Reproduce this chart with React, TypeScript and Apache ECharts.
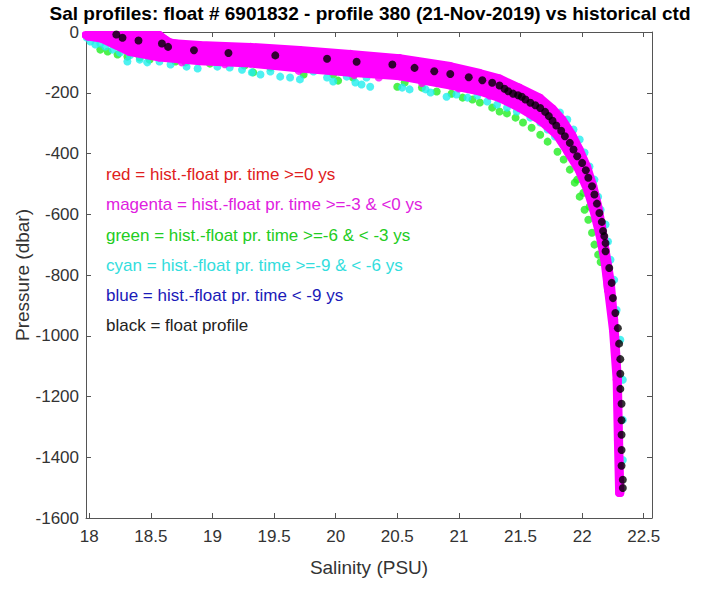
import React, { useEffect, useRef } from "react";
import * as echarts from "echarts";

// ---------- data ----------
const titleText = "Sal profiles: float # 6901832 - profile 380 (21-Nov-2019) vs historical ctd";
const xAxisTitle = "Salinity (PSU)";
const yAxisTitle = "Pressure (dbar)";

const xTicks = [18, 18.5, 19, 19.5, 20, 20.5, 21, 21.5, 22, 22.5];
const xMin = 17.974;
const xMax = 22.567;
const yMin = -1600;
const yMax = 0;
const yStep = 200;

const legendTexts = [
  "red = hist.-float pr. time >=0 ys",
  "magenta = hist.-float pr. time >=-3 & <0 ys",
  "green = hist.-float pr. time >=-6 & < -3 ys",
  "cyan = hist.-float pr. time >=-9 & < -6 ys",
  "blue = hist.-float pr. time < -9 ys",
  "black = float profile",
];

// float profile (black)
const floatProfile: number[][] = [
  [18.22, -8], [18.27, -19], [18.4, -28], [18.59, -38], [18.64, -49], [18.85, -60],
  [19.13, -69], [19.51, -77], [19.93, -88], [20.17, -98], [20.46, -107], [20.64, -118],
  [20.8, -129], [20.93, -138], [21.08, -149], [21.19, -159], [21.27, -167], [21.33, -176],
  [21.37, -187], [21.4, -195], [21.44, -203], [21.48, -208], [21.51, -213], [21.54, -222],
  [21.58, -233], [21.62, -241], [21.66, -250], [21.7, -263], [21.73, -277], [21.76, -292],
  [21.79, -308], [21.83, -325], [21.86, -343], [21.9, -365], [21.93, -387], [21.96, -409],
  [22.0, -431], [22.03, -455], [22.05, -480], [22.08, -508], [22.1, -535], [22.12, -565],
  [22.14, -596], [22.16, -625], [22.17, -655], [22.18, -672], [22.19, -695], [22.19, -722],
  [22.22, -777], [22.24, -826], [22.25, -876], [22.27, -925], [22.29, -975], [22.3, -1026],
  [22.31, -1077], [22.31, -1125], [22.31, -1175], [22.32, -1224], [22.32, -1278],
  [22.32, -1326], [22.32, -1376], [22.32, -1428], [22.33, -1474], [22.33, -1501],
];

// historical ctd, magenta (>=-3 & <0 ys): overlapping profiles forming the band
const magentaTop: number[][] = [
  [17.97, -10], [18.57, -10], [18.62, -25], [18.66, -36], [18.9, -43], [19.31, -49],
  [19.71, -59], [20.12, -72], [20.52, -86], [20.93, -112], [21.17, -135], [21.33, -153],
  [21.49, -183], [21.66, -217], [21.76, -252], [21.84, -288], [21.92, -338], [21.98, -387],
  [22.04, -443], [22.09, -506], [22.13, -572], [22.16, -638], [22.19, -717], [22.23, -815],
  [22.26, -947], [22.29, -1145], [22.3, -1343], [22.31, -1517],
];
const magentaUpper: number[][] = [
  [18.25, -15], [18.33, -23], [18.57, -27], [18.9, -54], [19.71, -72], [20.52, -99],
  [20.93, -126], [21.33, -168], [21.66, -234], [21.88, -316],
];
const magentaMid: number[][] = [
  [17.99, -15], [18.33, -36], [18.57, -44], [18.66, -56], [18.9, -66], [19.31, -72],
  [19.71, -86], [20.12, -99], [20.52, -112], [20.93, -140], [21.17, -161], [21.33, -183],
  [21.49, -213], [21.66, -252], [21.79, -295], [21.88, -344], [21.95, -397], [22.01, -453],
  [22.07, -519], [22.12, -592], [22.15, -667], [22.19, -750], [22.21, -849],
];
const magentaLower: number[][] = [
  [18.33, -50], [18.57, -66], [18.9, -82], [19.71, -105], [20.52, -131], [20.93, -160],
  [21.33, -203], [21.66, -275], [21.88, -372],
];
const magentaBottom: number[][] = [
  [18.09, -20], [18.33, -66], [18.57, -84], [18.9, -96], [19.31, -104], [19.71, -120],
  [20.12, -134], [20.52, -146], [20.93, -176], [21.17, -196], [21.33, -218], [21.49, -250],
  [21.66, -292], [21.79, -338], [21.88, -394], [21.97, -453], [22.04, -519], [22.09, -585],
  [22.14, -667], [22.18, -750], [22.21, -849], [22.25, -980], [22.28, -1145], [22.29, -1343],
  [22.3, -1517],
];
const magentaProfiles = [magentaTop, magentaUpper, magentaMid, magentaLower, magentaBottom];
// isolated magenta casts hanging below the band
const magentaDots: number[][] = [
  [18.75, -100], [19.1, -106], [19.7, -128], [20.15, -142], [20.35, -150], [20.7, -168],
  [21.0, -186], [21.25, -210],
];

// historical ctd, green (>=-6 & <-3 ys)
const greenPts: number[][] = [
  [18.09, -58], [18.15, -64], [18.23, -74], [18.31, -81], [18.41, -84], [18.49, -91],
  [18.7, -97], [18.78, -100], [18.98, -104], [19.26, -110], [19.33, -133], [19.47, -117],
  [19.74, -140], [19.98, -140], [20.02, -160], [20.14, -150], [20.5, -180], [20.56, -166],
  [20.7, -183], [20.82, -196], [20.94, -203], [21.03, -216], [21.11, -222], [21.17, -232],
  [21.27, -249], [21.33, -262], [21.39, -268], [21.46, -282], [21.52, -298], [21.59, -315],
  [21.66, -338], [21.72, -361], [21.8, -394], [21.85, -420], [21.9, -453], [21.94, -496],
  [21.96, -486], [21.98, -542], [22.01, -529], [22.02, -585], [22.05, -618], [22.06, -575],
  [22.08, -661], [22.1, -700], [22.13, -733], [22.15, -757],
];

// historical ctd, cyan (>=-9 & <-6 ys)
const cyanPts: number[][] = [
  [17.98, -18], [18.01, -31], [18.05, -41], [18.09, -38], [18.13, -48], [18.19, -58],
  [18.25, -68], [18.31, -97], [18.33, -77], [18.41, -91], [18.47, -100], [18.57, -97],
  [18.66, -107], [18.79, -114], [18.88, -120], [19.04, -114], [19.14, -117], [19.24, -124],
  [19.32, -133], [19.39, -140], [19.47, -130], [19.55, -147], [19.63, -150], [19.71, -156],
  [19.82, -130], [19.93, -150], [19.98, -163], [20.09, -147], [20.16, -166], [20.21, -173],
  [20.28, -180], [20.25, -150], [20.54, -183], [20.6, -189], [20.73, -189], [20.77, -199],
  [20.9, -213], [20.98, -206], [21.07, -216], [21.15, -209], [21.23, -229], [21.31, -239],
  [21.39, -249], [21.47, -262], [21.58, -282], [21.66, -298], [21.72, -321], [21.78, -344],
  [21.85, -371], [21.9, -397], [21.96, -427], [22.01, -463], [22.05, -496],
  [21.82, -265], [21.88, -288], [21.93, -321], [21.98, -354], [22.02, -397], [22.06, -443],
  [22.1, -486], [22.13, -542], [22.15, -585], [22.19, -634], [22.21, -690], [22.23, -750],
  [22.26, -816], [22.28, -915], [22.31, -1013], [22.33, -1145], [22.33, -1277], [22.33, -1409],
];

// ---------- styles ----------
const FONT = '"Liberation Sans", Arial, Helvetica, sans-serif';
const AXIS_COLOR = "#555555";
const TEXT_COLOR = "#333333";
const legendColors = ["#e02020", "#e020e0", "#22cc22", "#33dddd", "#1a1ab8", "#222222"];
const COLOR_MAGENTA = "#ff00ff";
const COLOR_GREEN = "#22ee22";
const COLOR_CYAN = "#22eeee";
const COLOR_BLACK = "#000000";

export default function App() {
  const ref = useRef<HTMLDivElement>(null);

  useEffect(() => {
    if (!ref.current) return;
    const chart = echarts.init(ref.current, undefined, { renderer: "svg" });

    const gridLeft = 86;
    const gridRight = 652;
    const gridTop = 32;
    const gridBottom = 518;

    const baseX = {
      type: "value" as const,
      min: xMin,
      max: xMax,
      splitLine: { show: false },
      axisLine: { show: true, onZero: false, lineStyle: { color: AXIS_COLOR, width: 1 } },
      axisTick: { show: true, inside: true, length: 5, customValues: xTicks, lineStyle: { color: AXIS_COLOR } },
    };

    const baseY = {
      type: "value" as const,
      min: yMin,
      max: yMax,
      interval: yStep,
      splitLine: { show: false },
      axisLine: { show: true, onZero: false, lineStyle: { color: AXIS_COLOR, width: 1 } },
      axisTick: { show: true, inside: true, length: 5, lineStyle: { color: AXIS_COLOR } },
    };

    const series: any[] = [];
    series.push({
      type: "scatter",
      name: "green",
      data: greenPts,
      symbol: "circle",
      symbolSize: 8,
      itemStyle: { color: COLOR_GREEN },
      z: 2,
      silent: true,
    });
    series.push({
      type: "scatter",
      name: "cyan",
      data: cyanPts,
      symbol: "circle",
      symbolSize: 8,
      itemStyle: { color: COLOR_CYAN },
      z: 3,
      silent: true,
    });
    magentaProfiles.forEach((p, i) => {
      series.push({
        type: "line",
        name: "magenta" + i,
        data: p,
        showSymbol: true,
        symbol: "circle",
        symbolSize: 8,
        itemStyle: { color: COLOR_MAGENTA },
        lineStyle: { color: COLOR_MAGENTA, width: 8, cap: "round", join: "round" },
        clip: true,
        z: 4,
        silent: true,
      });
    });
    series.push({
      type: "scatter",
      name: "magentaDots",
      data: magentaDots,
      symbol: "circle",
      symbolSize: 8,
      itemStyle: { color: COLOR_MAGENTA },
      z: 4,
      silent: true,
    });
    series.push({
      type: "scatter",
      name: "float",
      data: floatProfile,
      symbol: "circle",
      symbolSize: 8,
      itemStyle: { color: COLOR_BLACK },
      z: 10,
      silent: true,
    });

    const legendY = [174, 204, 235, 265, 295, 325];

    chart.setOption({
      animation: false,
      backgroundColor: "#ffffff",
      grid: {
        left: gridLeft,
        right: 710 - gridRight,
        top: gridTop,
        bottom: 589 - gridBottom,
        containLabel: false,
      },
      xAxis: [
        {
          ...baseX,
          position: "bottom",
          axisLabel: {
            show: true,
            customValues: xTicks,
            color: TEXT_COLOR,
            fontFamily: FONT,
            fontSize: 17,
            margin: 10,
          },
        },
        {
          ...baseX,
          position: "top",
          axisLabel: { show: false },
        },
      ],
      yAxis: [
        {
          ...baseY,
          position: "left",
          axisLabel: {
            show: true,
            color: TEXT_COLOR,
            fontFamily: FONT,
            fontSize: 17,
            margin: 7,
            formatter: (v: number) => String(v),
          },
        },
        {
          ...baseY,
          position: "right",
          axisLabel: { show: false },
        },
      ],
      series,
      graphic: [
        {
          type: "text",
          x: 370,
          y: 13,
          style: {
            text: titleText,
            fill: "#000000",
            font: `bold 19px ${FONT}`,
            textAlign: "center",
            textVerticalAlign: "middle",
          },
        },
        {
          type: "text",
          x: (gridLeft + gridRight) / 2,
          y: 567,
          style: {
            text: xAxisTitle,
            fill: TEXT_COLOR,
            font: `19px ${FONT}`,
            textAlign: "center",
            textVerticalAlign: "middle",
          },
        },
        {
          type: "text",
          x: 22,
          y: (gridTop + gridBottom) / 2,
          rotation: Math.PI / 2,
          style: {
            text: yAxisTitle,
            fill: TEXT_COLOR,
            font: `19px ${FONT}`,
            textAlign: "center",
            textVerticalAlign: "middle",
          },
        },
        ...legendTexts.map((t, i) => ({
          type: "text",
          x: 106,
          y: legendY[i],
          z: 100,
          style: {
            text: t,
            fill: legendColors[i],
            font: `17px ${FONT}`,
            textAlign: "left",
            textVerticalAlign: "middle",
          },
        })),
      ],
    });

    return () => {
      chart.dispose();
    };
  }, []);

  return (
    <div
      ref={ref}
      style={{ position: "fixed", left: 0, top: 0, width: 710, height: 589, background: "#fff" }}
    />
  );
}
